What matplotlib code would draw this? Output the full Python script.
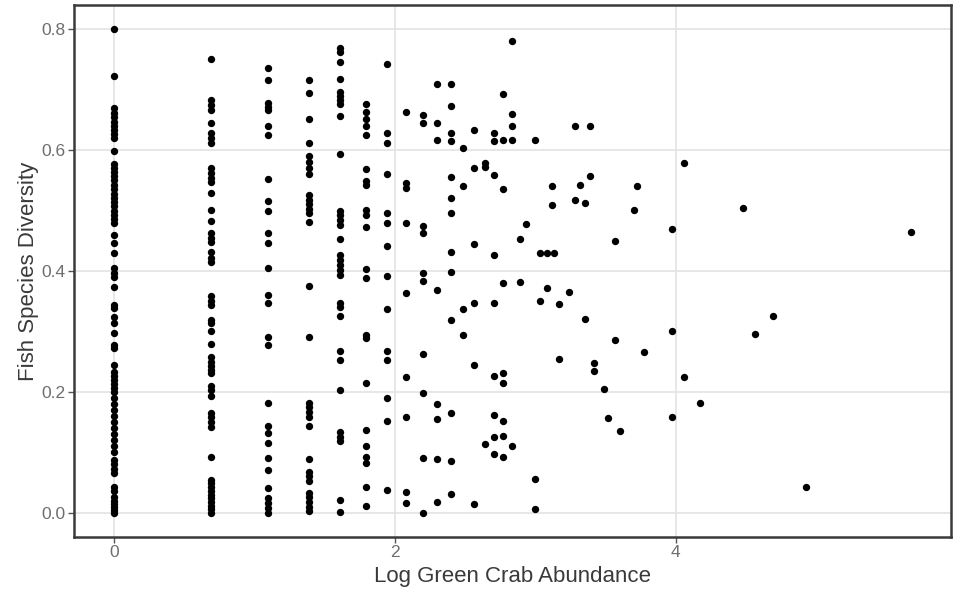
import matplotlib
matplotlib.use("Agg")
import matplotlib.pyplot as plt

plt.rcParams['font.family'] = ['Liberation Sans', 'DejaVu Sans']

# ---- data: columns of points (x = log abundance) ----
col_x = [0.0, 0.693, 1.099, 1.386, 1.609, 1.792, 1.946, 2.079, 2.197, 2.303,
         2.398, 2.485, 2.565, 2.639, 2.708, 2.773, 2.833]

col_y = [
    # x = 0
    [0.800, 0.722, 0.669, 0.662, 0.655, 0.647, 0.640, 0.633, 0.626, 0.620, 0.598,
     0.577, 0.570, 0.563, 0.557, 0.550, 0.543, 0.535, 0.528, 0.521, 0.514, 0.507,
     0.500, 0.493, 0.486, 0.480, 0.459, 0.446, 0.430, 0.405, 0.397, 0.390, 0.374,
     0.344, 0.338, 0.324, 0.314, 0.298, 0.278, 0.272, 0.245, 0.233, 0.227, 0.220,
     0.213, 0.206, 0.199, 0.190, 0.180, 0.170, 0.160, 0.150, 0.140, 0.130, 0.120,
     0.110, 0.100, 0.088, 0.080, 0.073, 0.066, 0.043, 0.036, 0.026, 0.020, 0.015,
     0.009, 0.004, 0.000],
    # x = 0.693
    [0.750, 0.683, 0.675, 0.666, 0.645, 0.628, 0.620, 0.612, 0.570, 0.562, 0.553,
     0.547, 0.529, 0.501, 0.482, 0.463, 0.455, 0.448, 0.432, 0.421, 0.415, 0.358,
     0.350, 0.344, 0.319, 0.314, 0.300, 0.279, 0.258, 0.250, 0.243, 0.236, 0.231,
     0.209, 0.203, 0.193, 0.165, 0.158, 0.150, 0.142, 0.093, 0.055, 0.049, 0.043,
     0.036, 0.030, 0.024, 0.018, 0.012, 0.006, 0.000],
    # x = 1.099
    [0.735, 0.716, 0.678, 0.672, 0.666, 0.640, 0.625, 0.552, 0.516, 0.499, 0.463,
     0.446, 0.405, 0.360, 0.347, 0.291, 0.278, 0.182, 0.143, 0.132, 0.116, 0.091,
     0.071, 0.041, 0.025, 0.016, 0.008, 0.000],
    # x = 1.386
    [0.716, 0.695, 0.651, 0.611, 0.590, 0.580, 0.570, 0.560, 0.526, 0.518, 0.510,
     0.503, 0.496, 0.481, 0.375, 0.291, 0.182, 0.175, 0.167, 0.159, 0.143, 0.089,
     0.068, 0.060, 0.052, 0.033, 0.026, 0.018, 0.010, 0.003],
    # x = 1.609
    [0.768, 0.762, 0.745, 0.718, 0.696, 0.689, 0.682, 0.676, 0.656, 0.593, 0.500,
     0.493, 0.485, 0.476, 0.453, 0.426, 0.418, 0.410, 0.402, 0.394, 0.347, 0.340,
     0.325, 0.267, 0.252, 0.203, 0.134, 0.126, 0.118, 0.021, 0.002],
    # x = 1.792
    [0.677, 0.663, 0.651, 0.640, 0.625, 0.568, 0.548, 0.542, 0.501, 0.493, 0.473,
     0.404, 0.388, 0.294, 0.289, 0.215, 0.137, 0.110, 0.093, 0.083, 0.043, 0.012],
    # x = 1.946
    [0.742, 0.629, 0.612, 0.560, 0.496, 0.480, 0.442, 0.391, 0.337, 0.267, 0.252,
     0.190, 0.151, 0.037],
    # x = 2.079
    [0.663, 0.546, 0.538, 0.480, 0.363, 0.225, 0.158, 0.034, 0.016],
    # x = 2.197
    [0.658, 0.644, 0.474, 0.462, 0.397, 0.384, 0.262, 0.198, 0.091, 0.000],
    # x = 2.303
    [0.710, 0.644, 0.617, 0.369, 0.180, 0.155, 0.089, 0.017],
    # x = 2.398
    [0.709, 0.673, 0.628, 0.615, 0.555, 0.520, 0.496, 0.432, 0.399, 0.319, 0.165,
     0.086, 0.031],
    # x = 2.485
    [0.604, 0.540, 0.337, 0.294],
    # x = 2.565
    [0.633, 0.570, 0.444, 0.347, 0.245, 0.014],
    # x = 2.639
    [0.579, 0.572, 0.114],
    # x = 2.708
    [0.629, 0.615, 0.559, 0.427, 0.347, 0.226, 0.161, 0.125, 0.097],
    # x = 2.773
    [0.693, 0.617, 0.535, 0.380, 0.232, 0.214, 0.151, 0.127, 0.093],
    # x = 2.833
    [0.781, 0.660, 0.640, 0.617, 0.111],
]

# scattered points at higher abundance
extra_x = [2.89, 2.89, 2.93, 2.996, 2.996, 2.996, 3.03, 3.03, 3.08, 3.08, 3.13,
           3.12, 3.12, 3.17, 3.17, 3.24, 3.28, 3.28, 3.32, 3.35, 3.35, 3.39, 3.39,
           3.42, 3.42, 3.49, 3.52, 3.57, 3.57, 3.60, 3.725, 3.70, 3.77, 3.97, 3.97,
           3.97, 4.06, 4.06, 4.17, 4.475, 4.56, 4.69, 4.93, 5.675]
extra_y = [0.453, 0.382, 0.477, 0.617, 0.056, 0.006, 0.430, 0.350, 0.430, 0.371,
           0.430, 0.540, 0.509, 0.345, 0.255, 0.366, 0.639, 0.518, 0.543, 0.512,
           0.320, 0.639, 0.557, 0.248, 0.235, 0.205, 0.156, 0.450, 0.285, 0.136,
           0.540, 0.501, 0.266, 0.469, 0.300, 0.158, 0.578, 0.224, 0.181, 0.504,
           0.295, 0.326, 0.042, 0.464]

x_ticks = [0, 2, 4]
y_ticks = [0.0, 0.2, 0.4, 0.6, 0.8]
x_label = "Log Green Crab Abundance"
y_label = "Fish Species Diversity"

# ---- assemble ----
xs, ys = [], []
for cx, cy in zip(col_x, col_y):
    xs.extend([cx] * len(cy))
    ys.extend(cy)
xs.extend(extra_x)
ys.extend(extra_y)

fig = plt.figure(figsize=(9.56, 5.92), dpi=100)
ax = fig.add_axes([0.0774, 0.093, 0.9174, 0.8986])

ax.scatter(xs, ys, s=28, color='black', linewidths=0, zorder=3)

xmin, xmax = 0.0, max(xs)
xr = xmax - xmin
ax.set_xlim(xmin - 0.05 * xr, xmax + 0.05 * xr)
ax.set_ylim(-0.04, 0.84)

ax.set_xticks(x_ticks)
ax.set_xticklabels([str(t) for t in x_ticks])
ax.set_yticks(y_ticks)
ax.set_yticklabels([f"{t:.1f}" for t in y_ticks])

ax.grid(True, color='#e3e3e3', linewidth=1.2, zorder=0)
ax.set_axisbelow(True)

for sp in ax.spines.values():
    sp.set_color('#3a3a3a')
    sp.set_linewidth(1.8)

ax.tick_params(axis='both', labelsize=12.5, length=4, width=1,
               labelcolor='#6e6e6e', color='#555555', pad=2)

ax.set_xlabel(x_label, fontsize=16, color='#3a3a3a', labelpad=4)
ax.set_ylabel(y_label, fontsize=16, color='#3a3a3a', labelpad=2)

fig.savefig("out.png", dpi=100, facecolor='white')
